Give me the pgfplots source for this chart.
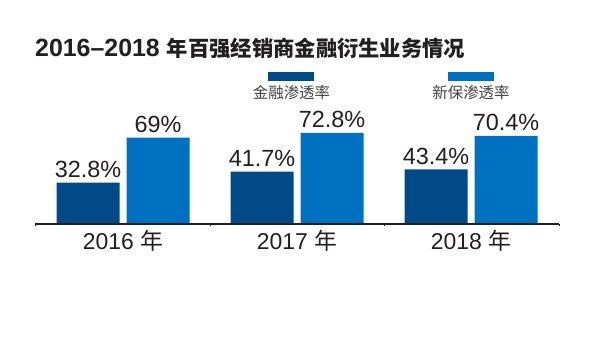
\documentclass[border=0pt]{standalone}
\usepackage{fontspec}
\setmainfont{Liberation Sans}
\newfontfamily\cjk{Noto Sans CJK SC}
\usepackage{pgfplots}
\pgfplotsset{compat=1.18}
\definecolor{dblue}{HTML}{004B87}
\definecolor{lblue}{HTML}{0070C0}
\definecolor{txt}{HTML}{231F20}
\begin{document}
\begin{tikzpicture}
\begin{axis}[
  scale only axis, width=599bp, height=339bp,
  xmin=-0.7069, xmax=2.7356,
  ymin=-92.77, ymax=179.52,
  clip=false,
  axis y line=none,
  axis x line=middle, x axis line style={draw=none},
  ybar=7bp, bar width=63bp,
  xtick={0,1,2},
  xticklabels={2016 {\cjk 年},2017 {\cjk 年},2018 {\cjk 年}},
  major tick length=0pt,
  xticklabel style={anchor=north, font=\fontsize{23}{26}\selectfont, text=txt, yshift=-3bp},
  ytick=\empty,
  nodes near coords, point meta=explicit symbolic,
  nodes near coords style={font=\fontsize{23.5}{26}\selectfont, text=txt, anchor=south, inner sep=0pt, yshift=5bp},
]
\addplot[fill=dblue, draw=none] coordinates {(0,32.8) [32.8\%] (1,41.7) [41.7\%] (2,43.4) [43.4\%]};
\addplot[fill=lblue, draw=none] coordinates {(0,69) [69\%] (1,72.8) [72.8\%] (2,70.4) [70.4\%]};
\path (rel axis cs:0,0) rectangle (rel axis cs:1,1);
\draw[txt, line width=2bp] (axis cs:-0.5057,0) -- (axis cs:2.5057,0);
\draw[txt, line width=1bp] (axis cs:-0.5057,0) -- (axis cs:-0.5057,-2.4);
\draw[txt, line width=1bp] (axis cs:0.5,0) -- (axis cs:0.5,-2.4);
\draw[txt, line width=1bp] (axis cs:1.5,0) -- (axis cs:1.5,-2.4);
\draw[txt, line width=1bp] (axis cs:2.5057,0) -- (axis cs:2.5057,-2.4);
\fill[dblue] (rel axis cs:0.4474,0.7876) rectangle (rel axis cs:0.5242,0.7611);
\fill[lblue] (rel axis cs:0.7479,0.7876) rectangle (rel axis cs:0.8247,0.7611);
\node[font=\cjk\fontsize{15.5}{18}\selectfont, text=txt!85] at (rel axis cs:0.4866,0.7271) {金融渗透率};
\node[font=\cjk\fontsize{15.5}{18}\selectfont, text=txt!85] at (rel axis cs:0.7863,0.7271) {新保渗透率};
\node[anchor=base west, inner sep=0pt, text=txt] at (rel axis cs:0.0584,0.8319) {\fontsize{25}{28}\selectfont\bfseries 2016\char"2013 2018 {\cjk\fontsize{21.4}{26}\selectfont\bfseries 年百强经销商金融衍生业务情况}};
\end{axis}
\end{tikzpicture}
\end{document}
